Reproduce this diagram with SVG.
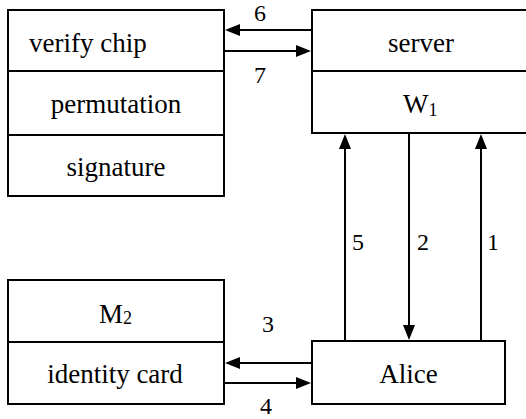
<svg xmlns="http://www.w3.org/2000/svg" width="526" height="419" viewBox="0 0 526 419">
<defs>
<marker id="ah" markerUnits="userSpaceOnUse" markerWidth="16" markerHeight="12" viewBox="0 -6 16 12" refX="0" refY="0" orient="auto">
<path d="M0,-6 L15,0 L0,6 z" fill="#000"/>
</marker>
</defs>
<rect width="526" height="419" fill="#fff"/>
<g id="chip">
<rect x="8" y="10" width="216" height="186" fill="#fff" stroke="#000" stroke-width="2"/>
<line x1="8" y1="71" x2="224" y2="71" stroke="#000" stroke-width="2"/>
<line x1="8" y1="135" x2="224" y2="135" stroke="#000" stroke-width="2"/>
<text x="29" y="51.5" font-size="27" font-family="Liberation Serif">verify chip</text>
<text x="116" y="113" font-size="27" font-family="Liberation Serif" text-anchor="middle">permutation</text>
<text x="116" y="175.5" font-size="27" font-family="Liberation Serif" text-anchor="middle">signature</text>
</g>
<g id="server">
<rect x="312" y="10" width="220" height="123" fill="#fff" stroke="#000" stroke-width="2"/>
<line x1="312" y1="71" x2="532" y2="71" stroke="#000" stroke-width="2"/>
<text x="421" y="51.5" font-size="27" font-family="Liberation Serif" text-anchor="middle">server</text>
<text x="403" y="113" font-size="27" font-family="Liberation Serif">W<tspan font-size="18" dy="3">1</tspan></text>
</g>
<g id="card">
<rect x="8" y="280" width="216" height="124" fill="#fff" stroke="#000" stroke-width="2"/>
<line x1="8" y1="342" x2="224" y2="342" stroke="#000" stroke-width="2"/>
<text x="99" y="323" font-size="27" font-family="Liberation Serif">M<tspan font-size="18" dy="1">2</tspan></text>
<text x="115" y="382.5" font-size="27" font-family="Liberation Serif" text-anchor="middle">identity card</text>
</g>
<g id="alice">
<rect x="312" y="341" width="193" height="63" fill="#fff" stroke="#000" stroke-width="2"/>
<text x="408.5" y="382.5" font-size="27" font-family="Liberation Serif" text-anchor="middle">Alice</text>
</g>
<g id="connectors" stroke="#000" stroke-width="2" fill="none" marker-end="url(#ah)">
<line x1="312" y1="30" x2="240" y2="30"/>
<line x1="224" y1="51" x2="296" y2="51"/>
<line x1="312" y1="363" x2="240" y2="363"/>
<line x1="224" y1="383" x2="296" y2="383"/>
<line x1="345" y1="341" x2="345" y2="149"/>
<line x1="409" y1="133" x2="409" y2="325"/>
<line x1="481" y1="341" x2="481" y2="149"/>
</g>
<g id="connector-labels">
<text x="254" y="20.5" font-size="24" font-family="Liberation Serif">6</text>
<text x="254" y="82.5" font-size="24" font-family="Liberation Serif">7</text>
<text x="262" y="331.5" font-size="24" font-family="Liberation Serif">3</text>
<text x="260" y="414" font-size="24" font-family="Liberation Serif">4</text>
<text x="352" y="250" font-size="24" font-family="Liberation Serif">5</text>
<text x="417" y="250" font-size="24" font-family="Liberation Serif">2</text>
<text x="487" y="250" font-size="24" font-family="Liberation Serif">1</text>
</g>
</svg>
